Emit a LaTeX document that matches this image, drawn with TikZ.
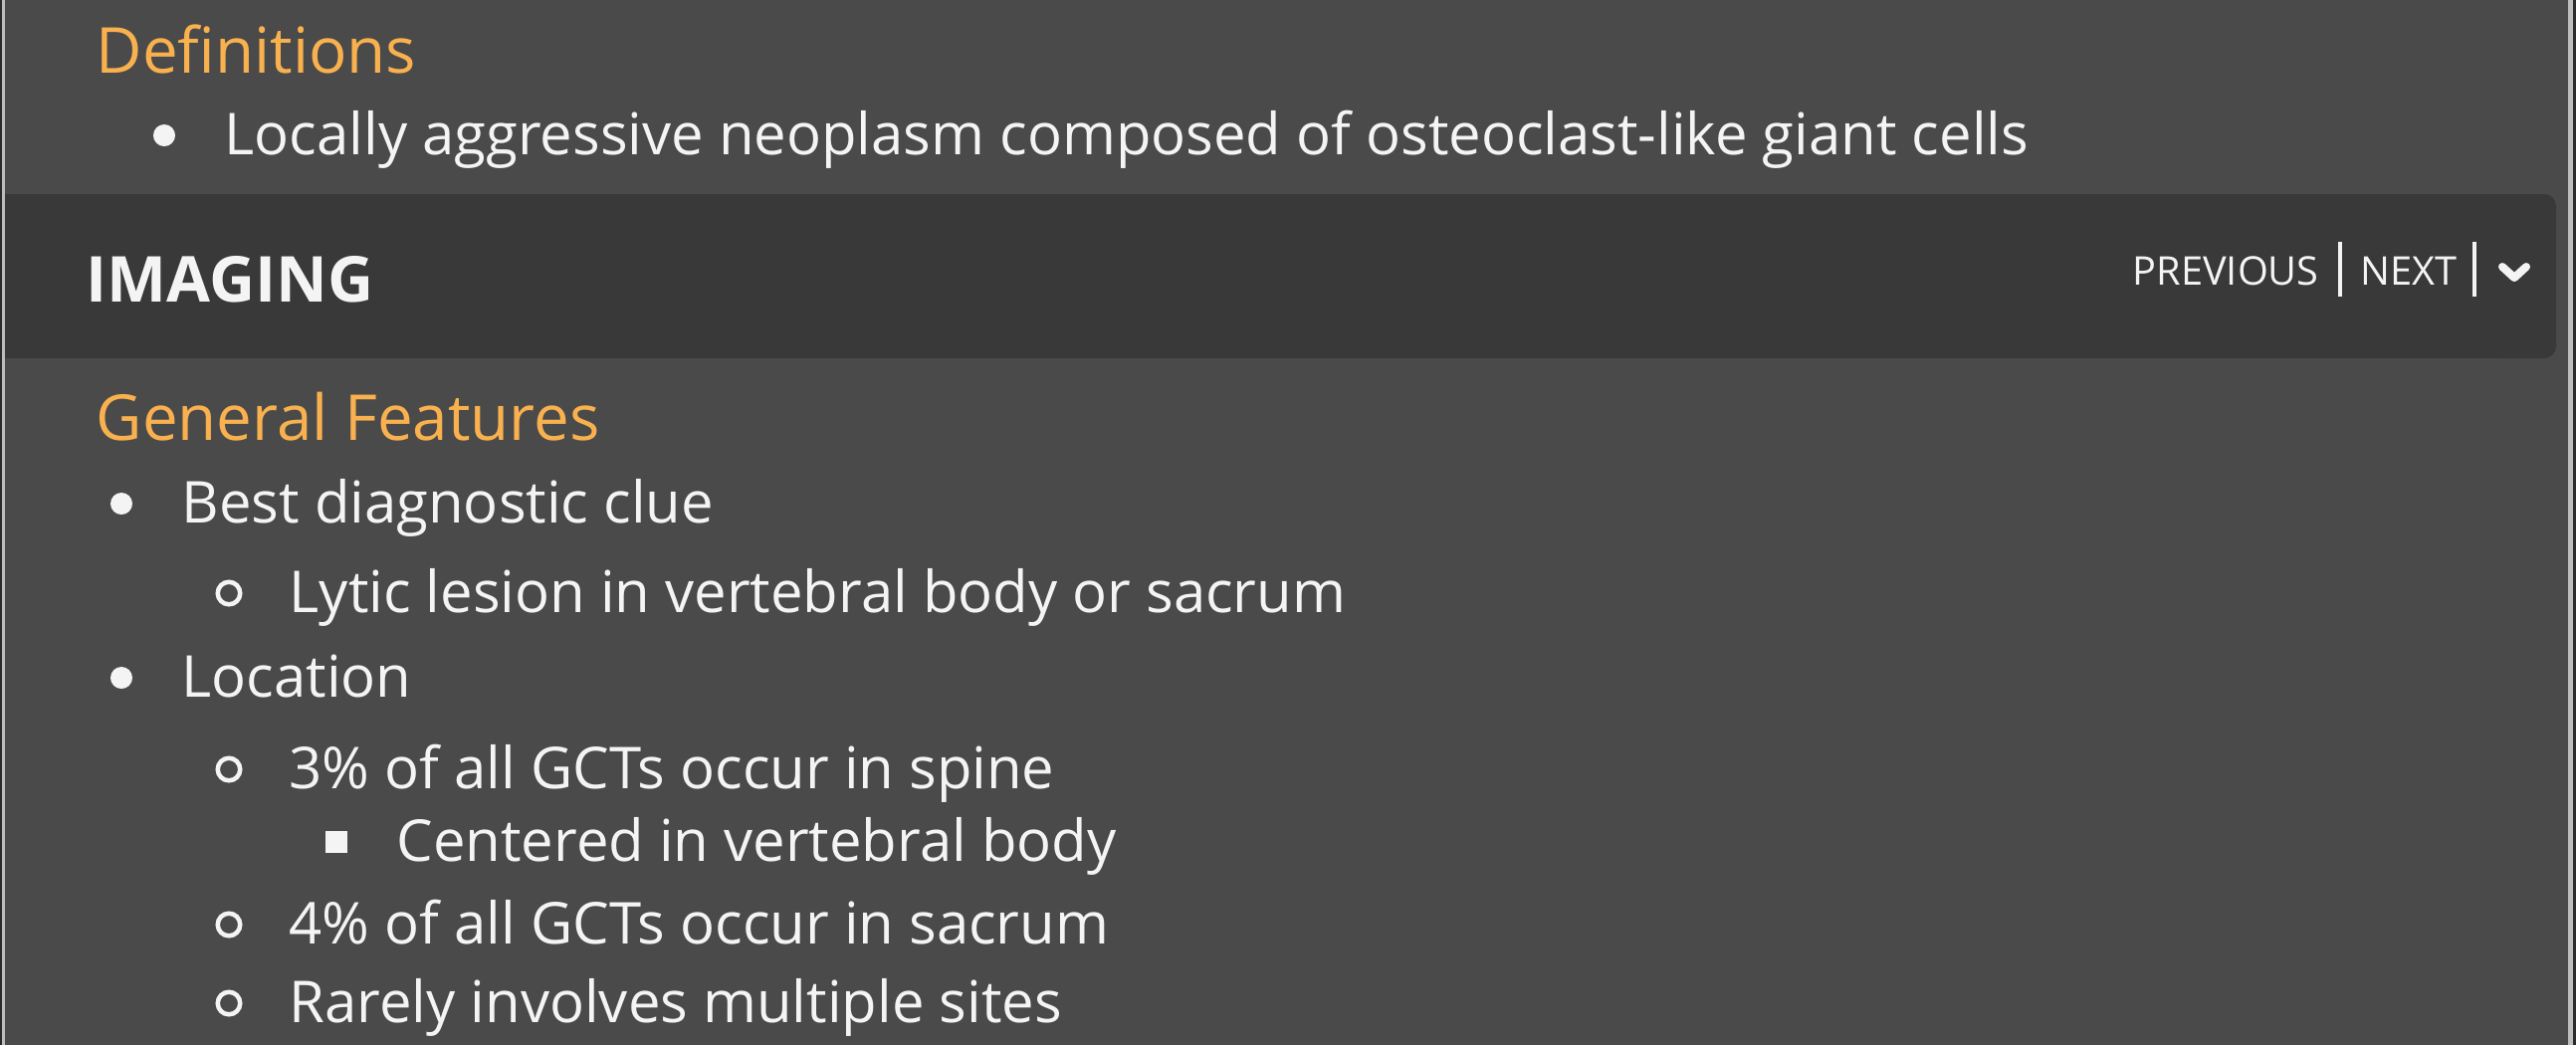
\documentclass[tikz,border=0pt]{standalone}
\usepackage{fontspec}
\setmainfont{Open Sans}
\usepackage{xcolor}
\usepackage{tikz}
\usetikzlibrary{positioning}
\definecolor{edgedark}{HTML}{2B2B2B}
\definecolor{edgegrey}{HTML}{BDBDBD}
\definecolor{pagebg}{HTML}{4A4A4A}
\definecolor{barbg}{HTML}{393939}
\definecolor{headorange}{HTML}{F8B14E}
\definecolor{txtwhite}{HTML}{F4F4F4}
\tikzset{heading/.style = {anchor=base west, inner sep=0pt, text=headorange, font=\fontsize{18.1pt}{21pt}\selectfont}}
\tikzset{itemtext/.style = {anchor=base west, inner sep=0pt, text=txtwhite, font=\fontsize{16.5pt}{19pt}\selectfont}}
\tikzset{bartitle/.style = {anchor=base west, inner sep=0pt, text=txtwhite, font=\fontsize{18.1pt}{21pt}\selectfont\bfseries}}
\tikzset{navtext/.style = {anchor=base west, inner sep=0pt, text=txtwhite, font=\fontsize{11.3pt}{13pt}\selectfont}}
\tikzset{dotmark/.style = {circle, fill=txtwhite, inner sep=0pt, minimum size=0.22cm}}
\tikzset{ringmark/.style = {circle, draw=txtwhite, line width=0.045cm, inner sep=0pt, minimum size=0.225cm}}
\tikzset{squaremark/.style = {rectangle, fill=txtwhite, inner sep=0pt, minimum size=0.22cm}}

\begin{document}
\begin{tikzpicture}[x=0.01cm, y=-0.01cm]
\useasboundingbox (0,0) rectangle (2588,1050);
% page and frame
\fill[edgedark] (0,0) rectangle (2588,1050);
\fill[edgegrey] (2,0) rectangle (2585,1050);
\fill[pagebg] (5,0) rectangle (2580,1050);
% section bar
\fill[barbg] (5,195) rectangle (2540,360);
\fill[barbg, rounded corners=0.12cm] (2500,195) rectangle (2568,360);

\node[heading] (defhead) at (96,73) {Definitions};
\node[dotmark] (defdot) at (165,136) {};
\node[itemtext] (defitem) at (225,155) {Locally aggressive neoplasm composed of osteoclast-like giant cells};

\node[bartitle] (imaging) at (86,303) {IMAGING};
\node[navtext] (prevlink) at (2142,286) {PREVIOUS};
\node[navtext] (nextlink) at (2371,286) {NEXT};
\draw[txtwhite, line width=0.045cm] (2351,243) -- (2351,298);
\draw[txtwhite, line width=0.045cm] (2486,243) -- (2486,298);
\draw[txtwhite, line width=0.08cm, line cap=round, line join=round] (2514,268) -- (2526,279) -- (2538,268);

\node[heading] (genhead) at (96,442) {General Features};
\foreach \mk/\xx/\yy/\nm/\txt in {
  dotmark/182/525/clue/Best diagnostic clue,
  ringmark/290/615/lytic/Lytic lesion in vertebral body or sacrum,
  dotmark/182/700/location/Location,
  ringmark/290/792/spine/3\% of all GCTs occur in spine,
  squaremark/398/865/centered/Centered in vertebral body,
  ringmark/290/948/sacrum/4\% of all GCTs occur in sacrum,
  ringmark/290/1027/sites/Rarely involves multiple sites} {
 \node[\mk] (\nm-mark) at (\xx-60,\yy-19) {};
 \node[itemtext] (\nm) at (\xx,\yy) {\txt};
}
\end{tikzpicture}
\end{document}
